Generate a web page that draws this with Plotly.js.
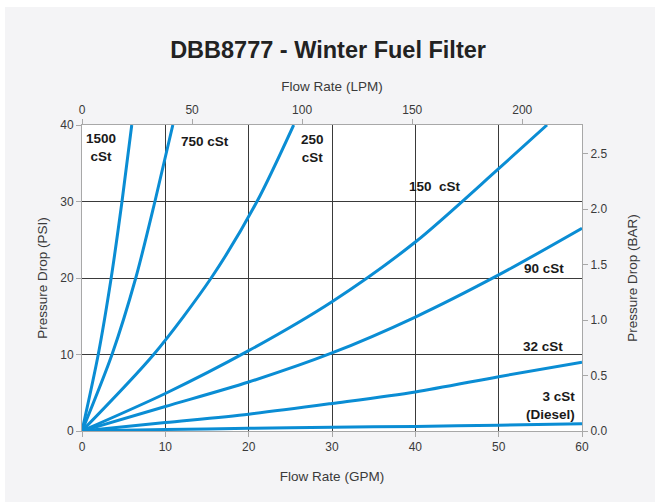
<!DOCTYPE html>
<html>
<head>
<meta charset="utf-8">
<script src="https://cdn.plot.ly/plotly-3.0.1.min.js"></script>
<style>
  html, body { margin: 0; padding: 0; background: #ffffff; width: 655px; height: 502px; overflow: hidden; }
  #chart { position: absolute; left: 5px; top: 7px; width: 650px; height: 495px; }
</style>
</head>
<body>
<div id="chart"></div>
<script>
// ---- Data ----
const gpm = [0, 10, 20, 30, 40, 50, 60];
const psi3 = [0, 0.2, 0.35, 0.5, 0.6, 0.75, 0.95];
const psi32 = [0, 1.1, 2.2, 3.6, 5.1, 7.1, 9.0];
const psi90 = [0, 3.2, 6.4, 10.2, 14.9, 20.4, 26.5];
const gpm150 = [0, 10, 20, 30, 40, 50, 55.8];
const psi150 = [0, 4.9, 10.5, 16.9, 24.7, 34.3, 40];
const gpm250 = [0, 8.6, 15.5, 21.0, 25.4];
const psi250 = [0, 10, 20, 30, 40];
const gpm750 = [0, 3.6, 6.45, 8.75, 10.9];
const psi750 = [0, 10, 20, 30, 40];
const gpm1500 = [0, 1.95, 3.5, 4.8, 5.97];
const psi1500 = [0, 10, 20, 30, 40];

const curveLabels = ['1500<br>cSt', '750 cSt', '250<br>cSt', '150  cSt', '90 cSt', '32 cSt', '3 cSt<br>(Diesel)'];
const labelX = [2.3, 14.8, 27.6, 42.3, 55.4, 55.3, 59.4];
const labelY = [37.1, 37.8, 36.9, 31.9, 21.2, 11.0, 3.27];
const labelAnchor = ['center', 'center', 'center', 'center', 'center', 'center', 'right'];

const LPM_PER_GPM = 3.78541;
const BAR_PER_PSI = 0.0689476;
const gpmMax = 60, psiMax = 40;

const blue = '#0a8dd4';
const fontFam = 'Liberation Sans, Arial, Helvetica, sans-serif';

function curve(x, y, name) {
  return { x: x, y: y, name: name, type: 'scatter', mode: 'lines',
    line: { color: blue, width: 3, shape: 'spline', smoothing: 0.8 },
    hoverinfo: 'x+y', showlegend: false, xaxis: 'x', yaxis: 'y' };
}

const traces = [
  curve(gpm, psi3, '3 cSt (Diesel)'),
  curve(gpm, psi32, '32 cSt'),
  curve(gpm, psi90, '90 cSt'),
  curve(gpm150, psi150, '150 cSt'),
  curve(gpm250, psi250, '250 cSt'),
  curve(gpm750, psi750, '750 cSt'),
  curve(gpm1500, psi1500, '1500 cSt'),
  // invisible trace to activate secondary axes
  { x: [0], y: [0], xaxis: 'x2', yaxis: 'y2', mode: 'markers', marker: { opacity: 0 }, hoverinfo: 'skip', showlegend: false }
];

const tickFont = { family: fontFam, size: 12, color: '#3a3a3a' };
const titleFont = { family: fontFam, size: 13.5, color: '#3a3a3a' };
const axisGray = '#a8a8a8';

const annotations = curveLabels.map((t, i) => ({
  text: '<b>' + t + '</b>', x: labelX[i], y: labelY[i], xref: 'x', yref: 'y',
  showarrow: false, xanchor: labelAnchor[i], yanchor: 'middle',
  align: labelAnchor[i] === 'right' ? 'right' : 'center',
  font: { family: fontFam, size: 13.5, color: '#1a1a1a' }
}));

const layout = {
  width: 650, height: 495,
  paper_bgcolor: '#f4f4f6', plot_bgcolor: '#ffffff',
  margin: { l: 77, r: 73, t: 118, b: 71, pad: 0 },
  title: {
    text: '<b>DBB8777 - Winter Fuel Filter</b>',
    font: { family: fontFam, size: 23.5, color: '#222222' },
    x: 0.497, xanchor: 'center', xref: 'container',
    y: 0.913, yanchor: 'middle', yref: 'container'
  },
  xaxis: {
    range: [0, gpmMax], dtick: 10, tick0: 0,
    showgrid: true, gridcolor: '#3a3a3a', gridwidth: 1, zeroline: false,
    showline: true, linecolor: axisGray, linewidth: 1,
    ticks: 'outside', ticklen: 5, tickcolor: axisGray,
    tickfont: tickFont,
    title: { text: 'Flow Rate (GPM)', font: titleFont, standoff: 18 },
    fixedrange: true
  },
  yaxis: {
    range: [0, psiMax], dtick: 10, tick0: 0,
    showgrid: true, gridcolor: '#3a3a3a', gridwidth: 1, zeroline: false,
    showline: true, linecolor: axisGray, linewidth: 1,
    ticks: 'outside', ticklen: 5, tickcolor: axisGray,
    tickfont: tickFont,
    title: { text: 'Pressure Drop (PSI)', font: titleFont, standoff: 9 },
    fixedrange: true
  },
  xaxis2: {
    overlaying: 'x', side: 'top', anchor: 'y',
    range: [0, gpmMax * LPM_PER_GPM], dtick: 50, tick0: 0,
    showgrid: false, zeroline: false,
    showline: true, linecolor: axisGray, linewidth: 1,
    ticks: 'outside', ticklen: 5, tickcolor: axisGray,
    tickfont: tickFont,
    title: { text: 'Flow Rate (LPM)', font: titleFont, standoff: 8 },
    fixedrange: true
  },
  yaxis2: {
    overlaying: 'y', side: 'right', anchor: 'x',
    range: [0, psiMax * BAR_PER_PSI], dtick: 0.5, tick0: 0, tickformat: '.1f',
    showgrid: false, zeroline: false,
    showline: true, linecolor: axisGray, linewidth: 1,
    ticks: 'outside', ticklen: 5, tickcolor: axisGray,
    tickfont: tickFont,
    title: { text: 'Pressure Drop (BAR)', font: titleFont, standoff: 21 },
    fixedrange: true
  },
  annotations: annotations,
  showlegend: false
};

Plotly.newPlot('chart', traces, layout, { displayModeBar: false, staticPlot: true });
</script>
</body>
</html>
